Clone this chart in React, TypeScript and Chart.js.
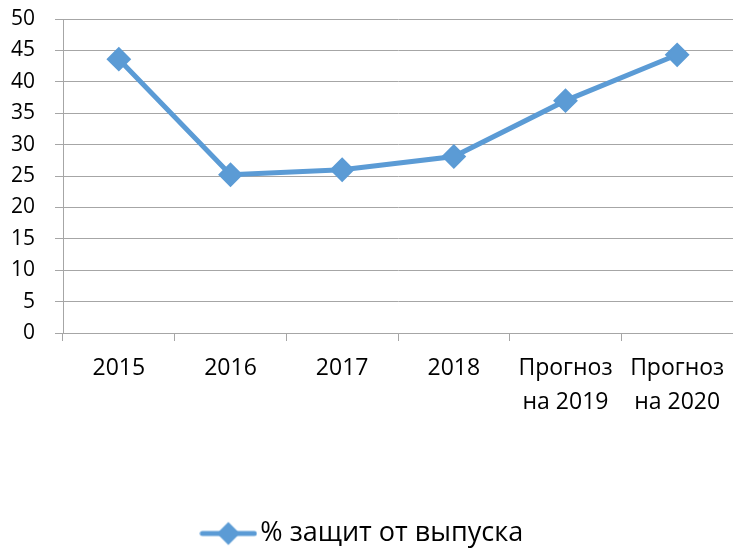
import React, { useEffect, useRef } from "react";
import { Chart, registerables } from "chart.js";

Chart.register(...registerables);

const categories: (string | string[])[] = [
  "2015",
  "2016",
  "2017",
  "2018",
  ["Прогноз", "на 2019"],
  ["Прогноз", "на 2020"],
];
const seriesName = "% защит от выпуска";
const seriesValues = [43.6, 25.2, 26.0, 28.1, 37.0, 44.3];
const yMin = 0;
const yMax = 50;
const yStep = 5;

const LINE_COLOR = "#5B9BD5";
const GRID_COLOR = "#A6A6A6";
const FONT = "'Open Sans', 'DejaVu Sans', sans-serif";

function makeLegendIcon(): HTMLCanvasElement {
  const c = document.createElement("canvas");
  c.width = 58;
  c.height = 26;
  const ctx = c.getContext("2d")!;
  ctx.strokeStyle = LINE_COLOR;
  ctx.lineWidth = 5;
  ctx.lineCap = "round";
  ctx.beginPath();
  ctx.moveTo(3, 13);
  ctx.lineTo(55, 13);
  ctx.stroke();
  ctx.fillStyle = LINE_COLOR;
  ctx.beginPath();
  ctx.moveTo(29, 1.5);
  ctx.lineTo(40.5, 13);
  ctx.lineTo(29, 24.5);
  ctx.lineTo(17.5, 13);
  ctx.closePath();
  ctx.fill();
  return c;
}

export default function App() {
  const ref = useRef<HTMLCanvasElement | null>(null);

  useEffect(() => {
    if (!ref.current) return;
    const icon = makeLegendIcon();
    const chart = new Chart(ref.current, {
      type: "line",
      data: {
        labels: categories,
        datasets: [
          {
            label: seriesName,
            data: seriesValues,
            borderColor: LINE_COLOR,
            backgroundColor: LINE_COLOR,
            borderWidth: 5,
            pointStyle: "rectRot",
            pointRadius: 11,
            pointBorderWidth: 2,
            pointBackgroundColor: LINE_COLOR,
            pointBorderColor: LINE_COLOR,
            tension: 0,
            fill: false,
          },
        ],
      },
      options: {
        responsive: false,
        animation: false,
        layout: { autoPadding: false, padding: { left: 0, right: 0, top: 19, bottom: -9 } },
        font: { family: FONT },
        scales: {
          x: {
            offset: true,
            grid: {
              display: true,
              offset: true,
              drawOnChartArea: false,
              drawTicks: true,
              tickLength: 8,
              color: GRID_COLOR,
            },
            border: { display: true, color: GRID_COLOR, width: 1 },
            ticks: {
              color: "#000",
              padding: 11,
              maxRotation: 0,
              autoSkip: false,
              font: { family: FONT, size: 23, lineHeight: 1.45 },
            },
            afterFit: (axis: any) => {
              axis.height = 183;
              axis.paddingLeft = 0;
              axis.paddingRight = 0;
            },
          },
          y: {
            min: yMin,
            max: yMax,
            grid: {
              color: GRID_COLOR,
              drawTicks: true,
              tickLength: 8,
            },
            border: { display: true, color: GRID_COLOR, width: 1 },
            ticks: {
              stepSize: yStep,
              color: "#000",
              padding: 20,
              font: { family: FONT, size: 21 },
            },
            afterFit: (axis: any) => {
              axis.width = 63;
              axis.paddingTop = 0;
              axis.paddingBottom = 0;
            },
          },
        },
        plugins: {
          tooltip: { enabled: false },
          legend: {
            display: true,
            position: "bottom",
            labels: {
              color: "#000",
              font: { family: FONT, size: 27 },
              usePointStyle: true,
              pointStyleWidth: 37,
              padding: 4,
              generateLabels: (ch: any) =>
                ch.data.datasets.map((ds: any, i: number) => ({
                  text: ds.label,
                  fillStyle: LINE_COLOR,
                  strokeStyle: LINE_COLOR,
                  lineWidth: 0,
                  pointStyle: icon,
                  hidden: false,
                  datasetIndex: i,
                  fontColor: "#000",
                })),
            },
          },
        },
      },
    });
    return () => chart.destroy();
  }, []);

  return (
    <div style={{ position: "fixed", left: 0, top: 0, width: 733, height: 548, background: "#fff" }}>
      <canvas ref={ref} width={733} height={548} style={{ display: "block" }} />
    </div>
  );
}
